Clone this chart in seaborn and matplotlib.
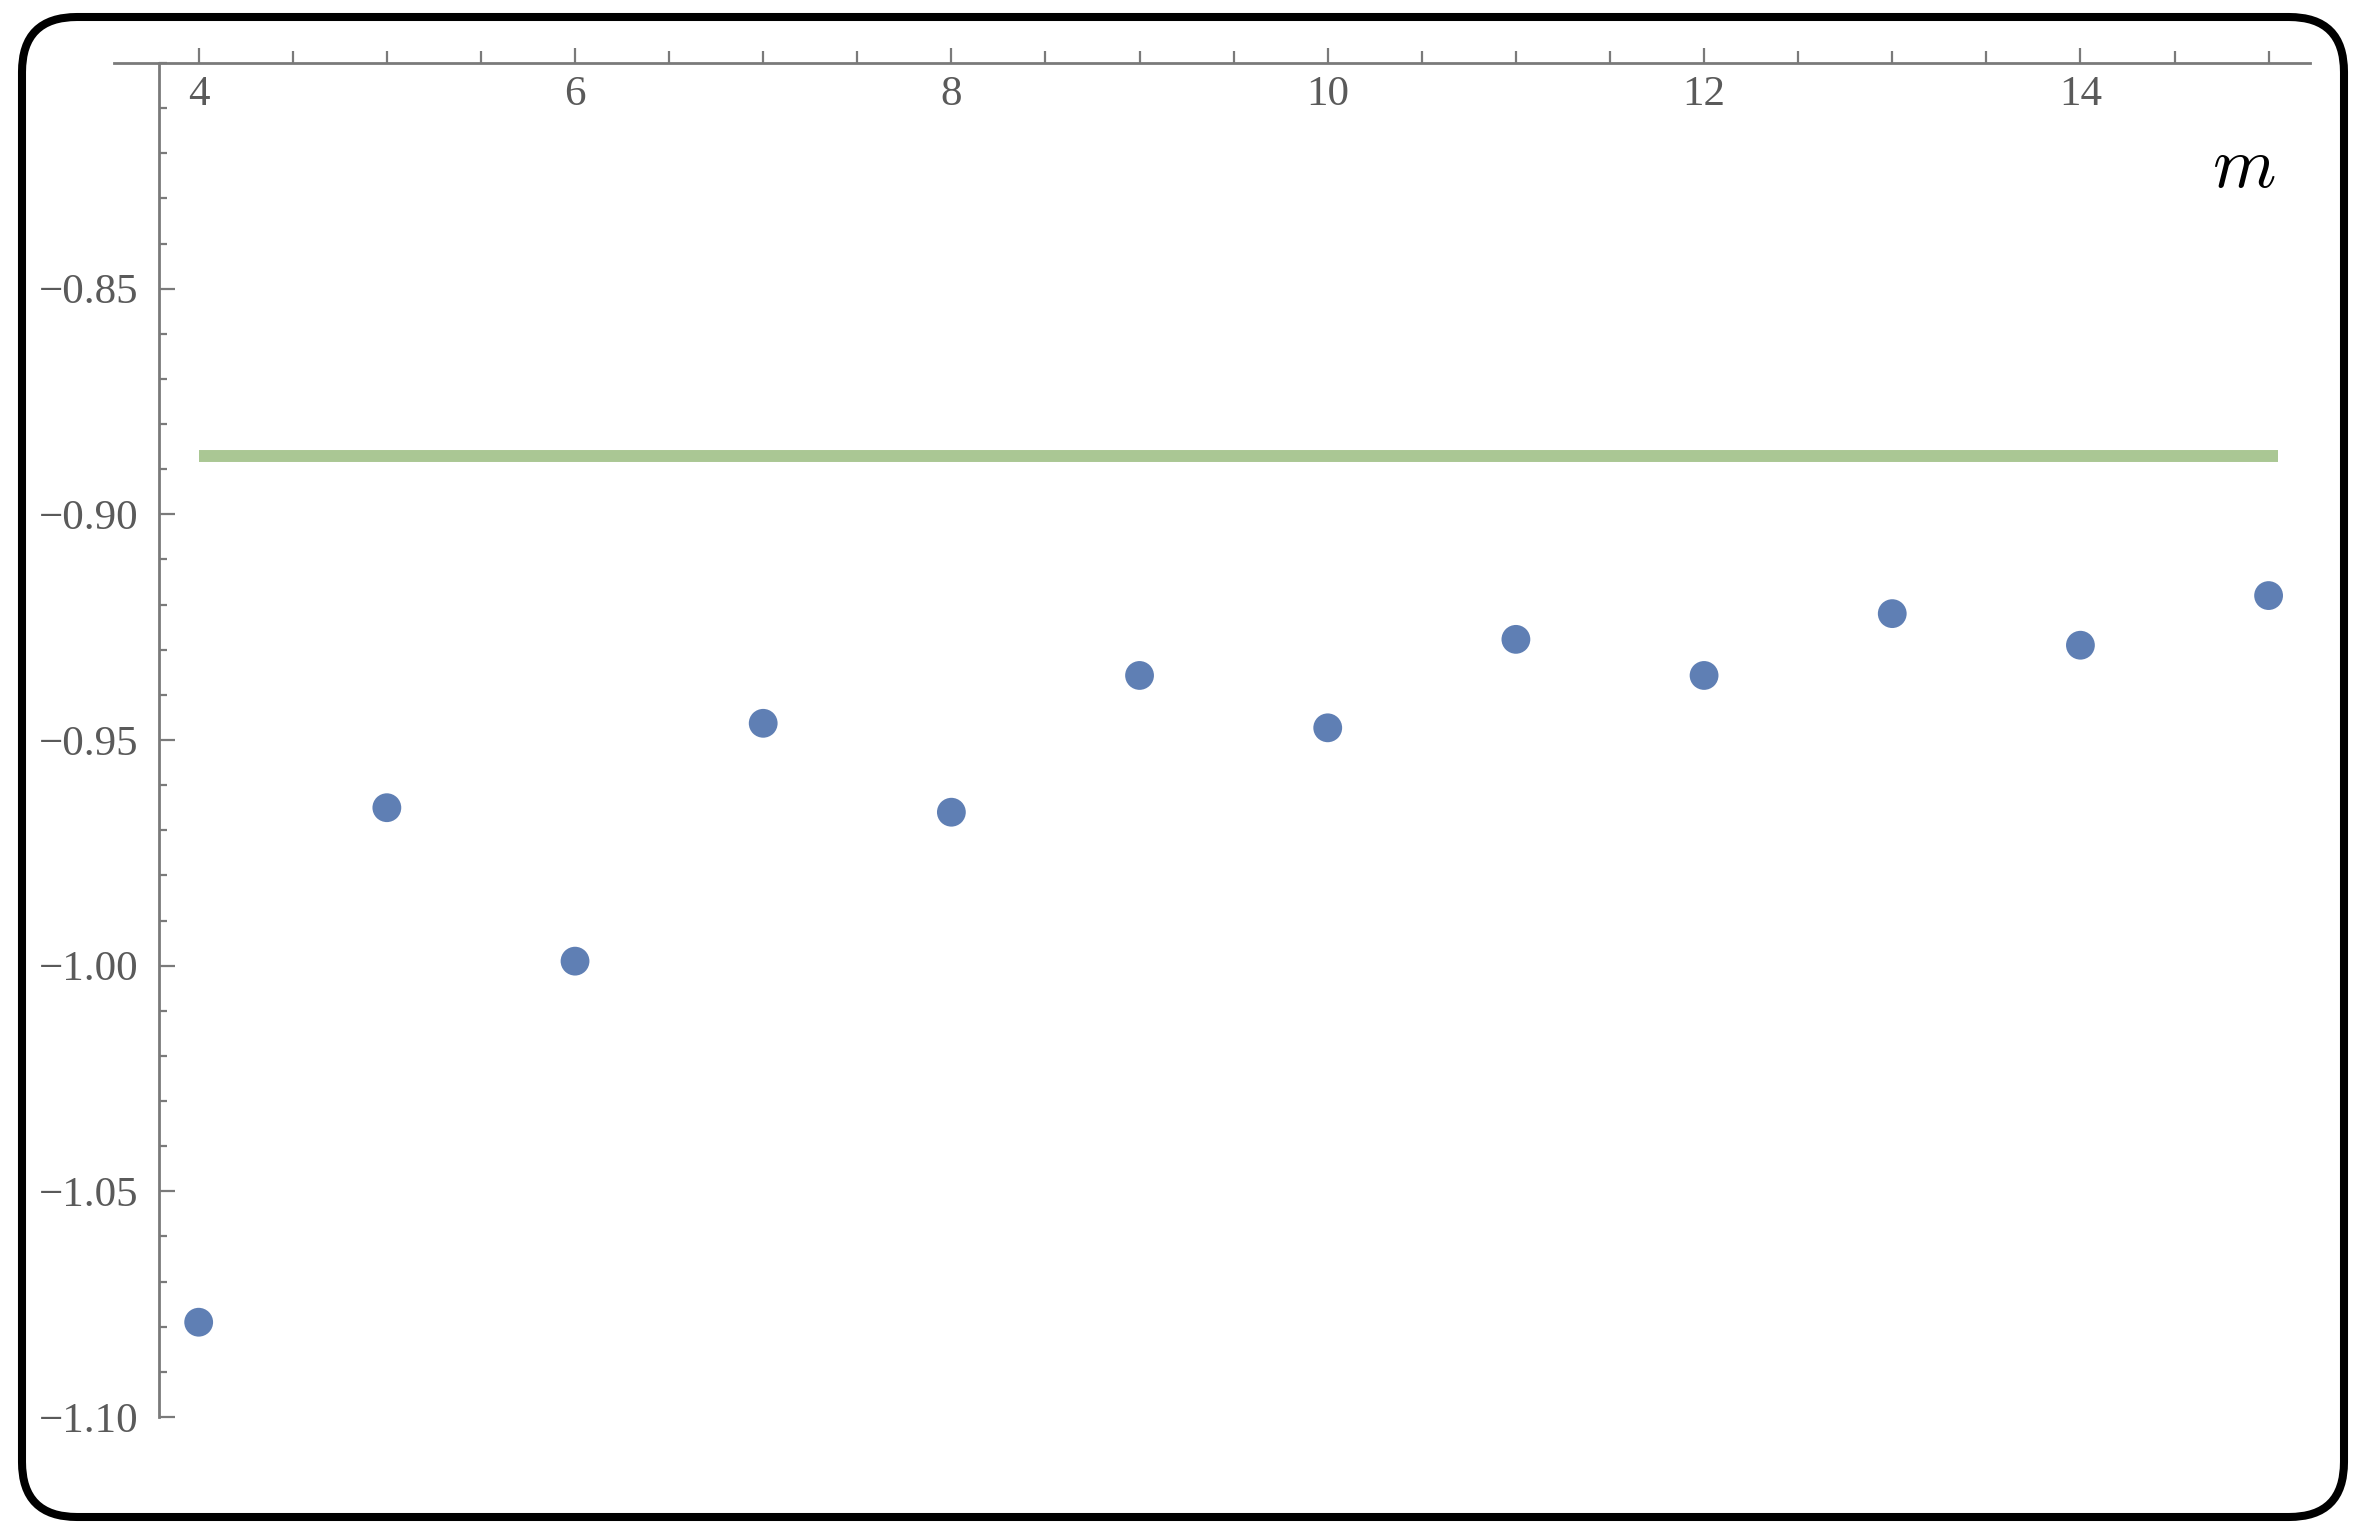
import matplotlib
matplotlib.use("Agg")
import matplotlib.pyplot as plt
import matplotlib.ticker as mticker
from matplotlib.patches import FancyBboxPatch
from matplotlib.transforms import IdentityTransform
import seaborn as sns
import pandas as pd

# data
m_values = [4, 5, 6, 7, 8, 9, 10, 11, 12, 13, 14, 15]
y_values = [-1.079, -0.965, -0.999, -0.9463, -0.966, -0.9357,
            -0.9473, -0.9277, -0.9357, -0.922, -0.929, -0.918]
limit_m = [4, 15.05]
limit_y = [-0.8871, -0.8871]
x_ticks = [4, 6, 8, 10, 12, 14]
y_ticks = [-1.10, -1.05, -1.00, -0.95, -0.90, -0.85]

COLORS = {
    "dots": "#5f7fb4",
    "line": "#aac794",
    "axis": "#7a7a7a",
    "text": "#5a5a5a",
}

sns.set_theme(style="white")
plt.rcParams["font.family"] = ["Liberation Serif", "DejaVu Serif"]
plt.rcParams["mathtext.fontset"] = "cm"

W, H = 2362, 1534
fig = plt.figure(figsize=(W / 100, H / 100), dpi=100)
fig.patch.set_facecolor("white")

ax = fig.add_axes([114 / W, (H - 1417) / H, 2196 / W, 1354 / H])
ax.set_facecolor("none")

pts = pd.DataFrame({"m": m_values, "y": y_values})
lim = pd.DataFrame({"m": limit_m, "y": limit_y})

sns.lineplot(data=lim, x="m", y="y", ax=ax, color=COLORS["line"],
             linewidth=8.6, solid_capstyle="butt", zorder=2)
sns.scatterplot(data=pts, x="m", y="y", ax=ax, color=COLORS["dots"],
                s=430, edgecolor="none", linewidth=0, zorder=3)

ax.set_xlim(3.55, 15.22)
ax.set_ylim(-1.10, -0.80)
ax.set_xlabel("")
ax.set_ylabel("")

# Mathematica-style axes: x axis along the top, y axis just left of m=4
for side in ("top", "right"):
    ax.spines[side].set_visible(False)
ax.spines["bottom"].set_position(("data", -0.80))
ax.spines["left"].set_position(("data", 3.79))
ax.spines["left"].set_bounds(-1.10, -0.80)
for side in ("bottom", "left"):
    ax.spines[side].set_color(COLORS["axis"])
    ax.spines[side].set_linewidth(2)

ax.set_xticks(x_ticks)
ax.set_yticks(y_ticks)
ax.xaxis.set_minor_locator(mticker.MultipleLocator(0.5))
ax.yaxis.set_minor_locator(mticker.MultipleLocator(0.01))
ax.xaxis.set_major_formatter(mticker.FuncFormatter(lambda v, _: f"{v:g}"))
ax.yaxis.set_major_formatter(
    mticker.FuncFormatter(lambda v, _: f"{v:.2f}".replace("-", "\u2212")))

ax.tick_params(axis="x", which="both", bottom=True, top=False)
ax.tick_params(axis="y", which="both", left=True, right=False)
ax.tick_params(axis="x", which="major", direction="in", length=11, width=1.6,
               color=COLORS["axis"], labelcolor=COLORS["text"],
               labelsize=31, pad=9)
ax.tick_params(axis="x", which="minor", direction="in", length=8.5, width=1.6,
               color=COLORS["axis"])
ax.tick_params(axis="y", which="major", direction="in", length=11.5, width=1.6,
               color=COLORS["axis"], labelcolor=COLORS["text"],
               labelsize=31, pad=15)
ax.tick_params(axis="y", which="minor", direction="in", length=5.5, width=1.6,
               color=COLORS["axis"])

fig.text(2244 / W, 1 - 170 / H, "$m$", ha="center", va="center",
         fontsize=52, color="black")

# rounded black frame around the whole picture
frame = FancyBboxPatch((22, 17), 2322, 1500,
                       boxstyle="round,pad=0,rounding_size=55",
                       transform=IdentityTransform(), fill=False,
                       edgecolor="black", linewidth=5.8)
fig.patches.append(frame)

fig.savefig("out.png", dpi=100, facecolor="white")
